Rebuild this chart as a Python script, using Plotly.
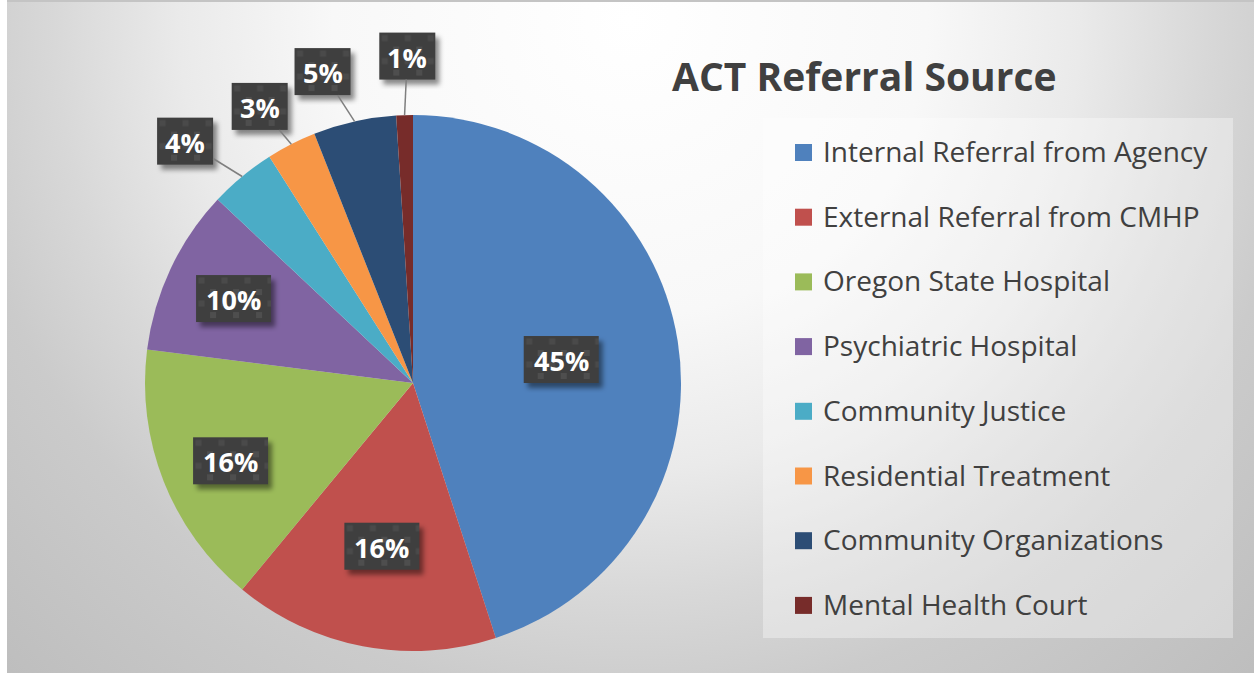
import base64
import math
import plotly.graph_objects as go

# ---------------- data ----------------
categories = [
    "Internal Referral from Agency",
    "External Referral from CMHP",
    "Oregon State Hospital",
    "Psychiatric Hospital",
    "Community Justice",
    "Residential Treatment",
    "Community Organizations",
    "Mental Health Court",
]
percent_values = [45, 16, 16, 10, 4, 3, 5, 1]
chart_title = "ACT Referral Source"

# ---------------- styles / layout ----------------
slice_colors = ["#4F81BD", "#C0504D", "#9BBB59", "#8064A2",
                "#4BACC6", "#F79646", "#2C4D75", "#772C2A"]
label_radius = [0.56, 0.62, 0.74, 0.74, 1.24, 1.18, 1.21, 1.22]
label_angle_shift = [0, 0, -1.5, 0, -3.7, -2.0, -3.6, 0.8]   # degrees

W, H = 1254, 673
CX, CY, R = 413, 383, 268          # pie centre / radius in px
FONT = "Open Sans"
TEXT_COLOR = "#404040"


def px(x):
    return x / W


def py(y):
    return 1 - y / H


def b64svg(svg):
    return "data:image/svg+xml;base64," + base64.b64encode(svg.encode()).decode()


# background radial gradient as inline SVG
bw, bh = W - 7, H - 2
stops = [(0.0, 255), (0.33, 248), (0.5, 234), (0.64, 216), (0.76, 203), (1.0, 190)]
stop_xml = "".join(
    f'<stop offset="{o}" stop-color="rgb({c},{c},{c})"/>' for o, c in stops)
bg_svg = (f'<svg xmlns="http://www.w3.org/2000/svg" width="{bw}" height="{bh}" '
          f'viewBox="0 0 {bw} {bh}" preserveAspectRatio="none">'
          f'<defs><radialGradient id="g" gradientUnits="userSpaceOnUse" '
          f'cx="623" cy="18" r="900">{stop_xml}</radialGradient></defs>'
          f'<rect x="0" y="0" width="{bw}" height="{bh}" fill="url(#g)"/></svg>')

images = [dict(source=b64svg(bg_svg), xref="paper", yref="paper",
               x=px(7), y=py(2), sizex=bw / W, sizey=bh / H,
               xanchor="left", yanchor="top", sizing="stretch", layer="below")]


def label_box_svg(bwid, bhei, pad):
    tw, th = bwid + 2 * pad, bhei + 2 * pad
    return (f'<svg xmlns="http://www.w3.org/2000/svg" width="{tw}" height="{th}" '
            f'viewBox="0 0 {tw} {th}">'
            '<defs>'
            '<filter id="s" x="-30%" y="-30%" width="160%" height="160%">'
            '<feGaussianBlur stdDeviation="2.5"/></filter>'
            '<pattern id="p" width="23" height="23" patternUnits="userSpaceOnUse">'
            '<rect width="23" height="23" fill="#3f3f3f"/>'
            '<rect x="1" y="1" width="6" height="6" fill="#4e4e4e"/>'
            '<rect x="12.5" y="12.5" width="6" height="6" fill="#4a4a4a"/>'
            '</pattern></defs>'
            f'<rect x="{pad + 4}" y="{pad + 5}" width="{bwid}" height="{bhei}" '
            'fill="rgba(0,0,0,0.45)" filter="url(#s)"/>'
            f'<rect x="{pad}" y="{pad}" width="{bwid}" height="{bhei}" fill="url(#p)"/>'
            '</svg>')


fig = go.Figure()
fig.add_trace(go.Pie(
    labels=categories,
    values=percent_values,
    sort=False,
    direction="clockwise",
    rotation=0,
    marker=dict(colors=slice_colors, line=dict(width=0)),
    textinfo="none",
    hoverinfo="label+percent",
    showlegend=False,
    domain=dict(x=[px(CX - R), px(CX + R)], y=[py(CY + R), py(CY - R)]),
))

shapes = []
annotations = []

# top thin border line
shapes.append(dict(type="line", xref="paper", yref="paper",
                   x0=px(7), x1=1, y0=py(1), y1=py(1),
                   line=dict(color="#c4c4c4", width=2), layer="below"))

# data labels
total = sum(percent_values)
cum = 0
BOX_H, PAD = 47, 10
for v, rf, shift in zip(percent_values, label_radius, label_angle_shift):
    theta = 2 * math.pi * (cum + v / 2) / total
    cum += v
    phi = theta + math.radians(shift)
    lx = CX + rf * R * math.sin(phi)
    ly = CY - rf * R * math.cos(phi)
    txt = f"{round(100 * v / total)}%"
    box_w = 37 + 19 * (len(txt) - 1)
    images.append(dict(source=b64svg(label_box_svg(box_w, BOX_H, PAD)),
                       xref="paper", yref="paper",
                       x=px(lx - box_w / 2 - PAD), y=py(ly - BOX_H / 2 - PAD),
                       sizex=(box_w + 2 * PAD) / W, sizey=(BOX_H + 2 * PAD) / H,
                       xanchor="left", yanchor="top", sizing="stretch",
                       layer="above"))
    if rf > 1:
        ex = CX + R * math.sin(theta)
        ey = CY - R * math.cos(theta)
        dx, dy = ex - lx, ey - ly
        t = min((box_w / 2) / abs(dx) if dx else 1e9,
                (BOX_H / 2) / abs(dy) if dy else 1e9)
        shapes.append(dict(type="line", xref="paper", yref="paper",
                           x0=px(ex), y0=py(ey), x1=px(lx + t * dx), y1=py(ly + t * dy),
                           line=dict(color="#7f7f7f", width=1.5)))
    annotations.append(dict(
        x=px(lx), y=py(ly + 1), xref="paper", yref="paper",
        text=txt, showarrow=False,
        font=dict(family=FONT, size=27, color="white", weight="bold"),
        xanchor="center", yanchor="middle"))

# title
annotations.append(dict(
    x=px(864), y=py(75), xref="paper", yref="paper", text=f"<b>{chart_title}</b>",
    showarrow=False, font=dict(family=FONT, size=39, color=TEXT_COLOR),
    xanchor="center", yanchor="middle"))

# manual legend
shapes.append(dict(type="rect", xref="paper", yref="paper",
                   x0=px(763), x1=px(1233), y0=py(638), y1=py(118),
                   fillcolor="rgba(255,255,255,0.35)", line=dict(width=0),
                   layer="below"))
row0, step = 151, 64.7
for i, (name, col) in enumerate(zip(categories, slice_colors)):
    yc = row0 + i * step
    shapes.append(dict(type="rect", xref="paper", yref="paper",
                       x0=px(795), x1=px(812), y0=py(yc + 10), y1=py(yc - 7),
                       fillcolor=col, line=dict(width=0)))
    annotations.append(dict(
        x=px(821), y=py(yc), xref="paper", yref="paper", text=name,
        showarrow=False, font=dict(family=FONT, size=28, color=TEXT_COLOR),
        xanchor="left", yanchor="middle"))

fig.update_layout(
    width=W, height=H,
    margin=dict(l=0, r=0, t=0, b=0),
    paper_bgcolor="white",
    plot_bgcolor="white",
    images=images,
    shapes=shapes,
    annotations=annotations,
)

fig.write_html("out.html",
               config={"displayModeBar": False},
               post_script="document.body.style.margin='0';"
                           "document.body.style.padding='0';")
